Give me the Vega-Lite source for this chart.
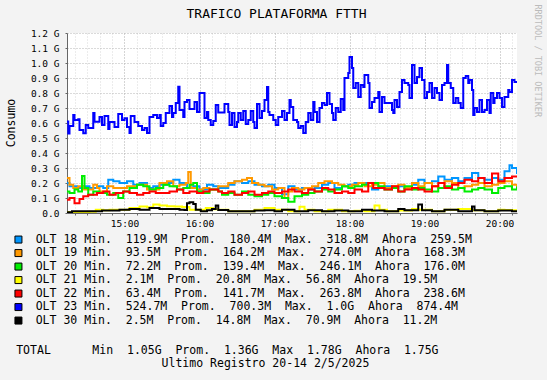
{
"$schema": "https://vega.github.io/schema/vega-lite/v6.json",
"width": 450, "height": 180,
"autosize": {"type": "none"},
"padding": {"left": 67, "top": 33, "right": 30, "bottom": 167},
"background": "#f3f3f3",
"config": {"view": {"fill": "white", "stroke": null}},
"datasets": {
"stats": [
{"s":"OLT 18","lbl":"OLT\u00a018\u00a0Min.\u00a0\u00a0119.9M\u00a0\u00a0Prom.\u00a0\u00a0180.4M\u00a0\u00a0Max.\u00a0\u00a0318.8M\u00a0\u00a0Ahora\u00a0\u00a0259.5M"},
{"s":"OLT 19","lbl":"OLT\u00a019\u00a0Min.\u00a0\u00a093.5M\u00a0\u00a0Prom.\u00a0\u00a0164.2M\u00a0\u00a0Max.\u00a0\u00a0274.0M\u00a0\u00a0Ahora\u00a0\u00a0168.3M"},
{"s":"OLT 20","lbl":"OLT\u00a020\u00a0Min.\u00a0\u00a072.2M\u00a0\u00a0Prom.\u00a0\u00a0139.4M\u00a0\u00a0Max.\u00a0\u00a0246.1M\u00a0\u00a0Ahora\u00a0\u00a0176.0M"},
{"s":"OLT 21","lbl":"OLT\u00a021\u00a0Min.\u00a0\u00a02.1M\u00a0\u00a0Prom.\u00a0\u00a020.8M\u00a0\u00a0Max.\u00a0\u00a056.8M\u00a0\u00a0Ahora\u00a0\u00a019.5M"},
{"s":"OLT 22","lbl":"OLT\u00a022\u00a0Min.\u00a0\u00a063.4M\u00a0\u00a0Prom.\u00a0\u00a0141.7M\u00a0\u00a0Max.\u00a0\u00a0263.8M\u00a0\u00a0Ahora\u00a0\u00a0238.6M"},
{"s":"OLT 23","lbl":"OLT\u00a023\u00a0Min.\u00a0\u00a0524.7M\u00a0\u00a0Prom.\u00a0\u00a0700.3M\u00a0\u00a0Max.\u00a0\u00a01.0G\u00a0\u00a0Ahora\u00a0\u00a0874.4M"},
{"s":"OLT 30","lbl":"OLT\u00a030\u00a0Min.\u00a0\u00a02.5M\u00a0\u00a0Prom.\u00a0\u00a014.8M\u00a0\u00a0Max.\u00a0\u00a070.9M\u00a0\u00a0Ahora\u00a0\u00a011.2M"}
],
"main": [
{"s":"OLT 18","m":854,"v":200},{"s":"OLT 18","m":856,"v":178},{"s":"OLT 18","m":862,"v":167},{"s":"OLT 18","m":867,"v":178},{"s":"OLT 18","m":872,"v":167},{"s":"OLT 18","m":878,"v":178},{"s":"OLT 18","m":883,"v":167},{"s":"OLT 18","m":887,"v":222},{"s":"OLT 18","m":891,"v":211},{"s":"OLT 18","m":896,"v":200},{"s":"OLT 18","m":902,"v":211},{"s":"OLT 18","m":907,"v":189},{"s":"OLT 18","m":912,"v":200},{"s":"OLT 18","m":918,"v":167},{"s":"OLT 18","m":923,"v":178},{"s":"OLT 18","m":928,"v":189},{"s":"OLT 18","m":934,"v":200},{"s":"OLT 18","m":939,"v":222},{"s":"OLT 18","m":944,"v":200},{"s":"OLT 18","m":950,"v":167},{"s":"OLT 18","m":955,"v":178},{"s":"OLT 18","m":960,"v":156},{"s":"OLT 18","m":966,"v":189},{"s":"OLT 18","m":971,"v":178},{"s":"OLT 18","m":975,"v":167},{"s":"OLT 18","m":983,"v":189},{"s":"OLT 18","m":988,"v":211},{"s":"OLT 18","m":994,"v":200},{"s":"OLT 18","m":999,"v":211},{"s":"OLT 18","m":1004,"v":189},{"s":"OLT 18","m":1010,"v":178},{"s":"OLT 18","m":1015,"v":189},{"s":"OLT 18","m":1020,"v":167},{"s":"OLT 18","m":1026,"v":125},{"s":"OLT 18","m":1031,"v":178},{"s":"OLT 18","m":1036,"v":156},{"s":"OLT 18","m":1042,"v":167},{"s":"OLT 18","m":1047,"v":156},{"s":"OLT 18","m":1052,"v":167},{"s":"OLT 18","m":1058,"v":189},{"s":"OLT 18","m":1063,"v":200},{"s":"OLT 18","m":1068,"v":167},{"s":"OLT 18","m":1074,"v":178},{"s":"OLT 18","m":1079,"v":189},{"s":"OLT 18","m":1084,"v":200},{"s":"OLT 18","m":1090,"v":200},{"s":"OLT 18","m":1098,"v":156},{"s":"OLT 18","m":1103,"v":167},{"s":"OLT 18","m":1108,"v":178},{"s":"OLT 18","m":1114,"v":167},{"s":"OLT 18","m":1119,"v":178},{"s":"OLT 18","m":1124,"v":167},{"s":"OLT 18","m":1130,"v":189},{"s":"OLT 18","m":1135,"v":222},{"s":"OLT 18","m":1140,"v":200},{"s":"OLT 18","m":1146,"v":211},{"s":"OLT 18","m":1151,"v":244},{"s":"OLT 18","m":1156,"v":222},{"s":"OLT 18","m":1162,"v":233},{"s":"OLT 18","m":1167,"v":211},{"s":"OLT 18","m":1172,"v":233},{"s":"OLT 18","m":1178,"v":267},{"s":"OLT 18","m":1183,"v":233},{"s":"OLT 18","m":1188,"v":222},{"s":"OLT 18","m":1194,"v":233},{"s":"OLT 18","m":1199,"v":222},{"s":"OLT 18","m":1204,"v":278},{"s":"OLT 18","m":1208,"v":319},{"s":"OLT 18","m":1210,"v":300},{"s":"OLT 18","m":1214,"v":260},
{"s":"OLT 19","m":854,"v":233},{"s":"OLT 19","m":856,"v":189},{"s":"OLT 19","m":859,"v":167},{"s":"OLT 19","m":863,"v":178},{"s":"OLT 19","m":867,"v":156},{"s":"OLT 19","m":875,"v":189},{"s":"OLT 19","m":878,"v":167},{"s":"OLT 19","m":880,"v":144},{"s":"OLT 19","m":886,"v":178},{"s":"OLT 19","m":891,"v":167},{"s":"OLT 19","m":902,"v":178},{"s":"OLT 19","m":910,"v":189},{"s":"OLT 19","m":918,"v":156},{"s":"OLT 19","m":928,"v":200},{"s":"OLT 19","m":934,"v":211},{"s":"OLT 19","m":939,"v":178},{"s":"OLT 19","m":944,"v":189},{"s":"OLT 19","m":949,"v":200},{"s":"OLT 19","m":951,"v":274},{"s":"OLT 19","m":953,"v":167},{"s":"OLT 19","m":958,"v":156},{"s":"OLT 19","m":963,"v":167},{"s":"OLT 19","m":968,"v":156},{"s":"OLT 19","m":975,"v":178},{"s":"OLT 19","m":983,"v":200},{"s":"OLT 19","m":988,"v":211},{"s":"OLT 19","m":994,"v":222},{"s":"OLT 19","m":998,"v":233},{"s":"OLT 19","m":1002,"v":200},{"s":"OLT 19","m":1007,"v":189},{"s":"OLT 19","m":1012,"v":178},{"s":"OLT 19","m":1018,"v":156},{"s":"OLT 19","m":1023,"v":167},{"s":"OLT 19","m":1028,"v":100},{"s":"OLT 19","m":1031,"v":144},{"s":"OLT 19","m":1034,"v":167},{"s":"OLT 19","m":1039,"v":156},{"s":"OLT 19","m":1044,"v":167},{"s":"OLT 19","m":1050,"v":178},{"s":"OLT 19","m":1055,"v":200},{"s":"OLT 19","m":1060,"v":211},{"s":"OLT 19","m":1066,"v":200},{"s":"OLT 19","m":1071,"v":189},{"s":"OLT 19","m":1076,"v":178},{"s":"OLT 19","m":1082,"v":189},{"s":"OLT 19","m":1087,"v":200},{"s":"OLT 19","m":1092,"v":178},{"s":"OLT 19","m":1098,"v":189},{"s":"OLT 19","m":1103,"v":200},{"s":"OLT 19","m":1108,"v":167},{"s":"OLT 19","m":1114,"v":178},{"s":"OLT 19","m":1119,"v":189},{"s":"OLT 19","m":1124,"v":167},{"s":"OLT 19","m":1130,"v":200},{"s":"OLT 19","m":1135,"v":178},{"s":"OLT 19","m":1140,"v":200},{"s":"OLT 19","m":1146,"v":178},{"s":"OLT 19","m":1151,"v":167},{"s":"OLT 19","m":1156,"v":211},{"s":"OLT 19","m":1162,"v":200},{"s":"OLT 19","m":1167,"v":167},{"s":"OLT 19","m":1172,"v":178},{"s":"OLT 19","m":1178,"v":189},{"s":"OLT 19","m":1183,"v":200},{"s":"OLT 19","m":1188,"v":178},{"s":"OLT 19","m":1194,"v":189},{"s":"OLT 19","m":1199,"v":200},{"s":"OLT 19","m":1204,"v":211},{"s":"OLT 19","m":1210,"v":189},{"s":"OLT 19","m":1214,"v":168},
{"s":"OLT 20","m":854,"v":144},{"s":"OLT 20","m":856,"v":133},{"s":"OLT 20","m":860,"v":156},{"s":"OLT 20","m":863,"v":144},{"s":"OLT 20","m":866,"v":246},{"s":"OLT 20","m":868,"v":167},{"s":"OLT 20","m":871,"v":122},{"s":"OLT 20","m":875,"v":144},{"s":"OLT 20","m":880,"v":133},{"s":"OLT 20","m":886,"v":122},{"s":"OLT 20","m":891,"v":133},{"s":"OLT 20","m":895,"v":100},{"s":"OLT 20","m":899,"v":144},{"s":"OLT 20","m":904,"v":167},{"s":"OLT 20","m":910,"v":189},{"s":"OLT 20","m":915,"v":178},{"s":"OLT 20","m":920,"v":156},{"s":"OLT 20","m":925,"v":167},{"s":"OLT 20","m":931,"v":189},{"s":"OLT 20","m":936,"v":178},{"s":"OLT 20","m":942,"v":156},{"s":"OLT 20","m":947,"v":167},{"s":"OLT 20","m":952,"v":189},{"s":"OLT 20","m":955,"v":200},{"s":"OLT 20","m":958,"v":144},{"s":"OLT 20","m":963,"v":133},{"s":"OLT 20","m":968,"v":156},{"s":"OLT 20","m":975,"v":144},{"s":"OLT 20","m":978,"v":122},{"s":"OLT 20","m":983,"v":133},{"s":"OLT 20","m":988,"v":122},{"s":"OLT 20","m":994,"v":144},{"s":"OLT 20","m":999,"v":122},{"s":"OLT 20","m":1004,"v":111},{"s":"OLT 20","m":1010,"v":122},{"s":"OLT 20","m":1015,"v":133},{"s":"OLT 20","m":1020,"v":111},{"s":"OLT 20","m":1026,"v":100},{"s":"OLT 20","m":1031,"v":75},{"s":"OLT 20","m":1036,"v":111},{"s":"OLT 20","m":1042,"v":122},{"s":"OLT 20","m":1047,"v":133},{"s":"OLT 20","m":1052,"v":144},{"s":"OLT 20","m":1058,"v":156},{"s":"OLT 20","m":1063,"v":144},{"s":"OLT 20","m":1068,"v":156},{"s":"OLT 20","m":1074,"v":178},{"s":"OLT 20","m":1079,"v":167},{"s":"OLT 20","m":1084,"v":178},{"s":"OLT 20","m":1090,"v":189},{"s":"OLT 20","m":1095,"v":200},{"s":"OLT 20","m":1103,"v":178},{"s":"OLT 20","m":1108,"v":156},{"s":"OLT 20","m":1114,"v":167},{"s":"OLT 20","m":1119,"v":144},{"s":"OLT 20","m":1124,"v":178},{"s":"OLT 20","m":1130,"v":156},{"s":"OLT 20","m":1135,"v":167},{"s":"OLT 20","m":1140,"v":156},{"s":"OLT 20","m":1146,"v":144},{"s":"OLT 20","m":1151,"v":167},{"s":"OLT 20","m":1156,"v":178},{"s":"OLT 20","m":1162,"v":156},{"s":"OLT 20","m":1167,"v":167},{"s":"OLT 20","m":1172,"v":144},{"s":"OLT 20","m":1178,"v":156},{"s":"OLT 20","m":1183,"v":167},{"s":"OLT 20","m":1188,"v":156},{"s":"OLT 20","m":1194,"v":133},{"s":"OLT 20","m":1199,"v":167},{"s":"OLT 20","m":1204,"v":178},{"s":"OLT 20","m":1210,"v":156},{"s":"OLT 20","m":1214,"v":176},
{"s":"OLT 21","m":854,"v":7},{"s":"OLT 21","m":860,"v":2},{"s":"OLT 21","m":866,"v":7},{"s":"OLT 21","m":872,"v":8},{"s":"OLT 21","m":877,"v":22},{"s":"OLT 21","m":883,"v":18},{"s":"OLT 21","m":888,"v":22},{"s":"OLT 21","m":896,"v":22},{"s":"OLT 21","m":904,"v":33},{"s":"OLT 21","m":912,"v":44},{"s":"OLT 21","m":918,"v":38},{"s":"OLT 21","m":923,"v":56},{"s":"OLT 21","m":928,"v":50},{"s":"OLT 21","m":934,"v":45},{"s":"OLT 21","m":940,"v":44},{"s":"OLT 21","m":946,"v":40},{"s":"OLT 21","m":952,"v":22},{"s":"OLT 21","m":958,"v":22},{"s":"OLT 21","m":965,"v":33},{"s":"OLT 21","m":971,"v":25},{"s":"OLT 21","m":975,"v":22},{"s":"OLT 21","m":983,"v":11},{"s":"OLT 21","m":990,"v":11},{"s":"OLT 21","m":999,"v":11},{"s":"OLT 21","m":1004,"v":22},{"s":"OLT 21","m":1012,"v":33},{"s":"OLT 21","m":1020,"v":22},{"s":"OLT 21","m":1031,"v":11},{"s":"OLT 21","m":1040,"v":42},{"s":"OLT 21","m":1044,"v":22},{"s":"OLT 21","m":1052,"v":11},{"s":"OLT 21","m":1063,"v":22},{"s":"OLT 21","m":1074,"v":11},{"s":"OLT 21","m":1084,"v":15},{"s":"OLT 21","m":1092,"v":11},{"s":"OLT 21","m":1100,"v":50},{"s":"OLT 21","m":1104,"v":22},{"s":"OLT 21","m":1110,"v":11},{"s":"OLT 21","m":1119,"v":16},{"s":"OLT 21","m":1130,"v":27},{"s":"OLT 21","m":1135,"v":22},{"s":"OLT 21","m":1146,"v":11},{"s":"OLT 21","m":1156,"v":22},{"s":"OLT 21","m":1167,"v":27},{"s":"OLT 21","m":1178,"v":18},{"s":"OLT 21","m":1188,"v":11},{"s":"OLT 21","m":1199,"v":22},{"s":"OLT 21","m":1204,"v":20},{"s":"OLT 21","m":1210,"v":18},{"s":"OLT 21","m":1214,"v":20},
{"s":"OLT 22","m":854,"v":89},{"s":"OLT 22","m":856,"v":100},{"s":"OLT 22","m":860,"v":65},{"s":"OLT 22","m":864,"v":93},{"s":"OLT 22","m":867,"v":111},{"s":"OLT 22","m":871,"v":122},{"s":"OLT 22","m":878,"v":133},{"s":"OLT 22","m":883,"v":144},{"s":"OLT 22","m":888,"v":122},{"s":"OLT 22","m":893,"v":133},{"s":"OLT 22","m":899,"v":144},{"s":"OLT 22","m":904,"v":133},{"s":"OLT 22","m":910,"v":122},{"s":"OLT 22","m":915,"v":133},{"s":"OLT 22","m":920,"v":144},{"s":"OLT 22","m":925,"v":133},{"s":"OLT 22","m":936,"v":144},{"s":"OLT 22","m":942,"v":156},{"s":"OLT 22","m":947,"v":133},{"s":"OLT 22","m":952,"v":144},{"s":"OLT 22","m":958,"v":133},{"s":"OLT 22","m":963,"v":144},{"s":"OLT 22","m":968,"v":156},{"s":"OLT 22","m":975,"v":144},{"s":"OLT 22","m":978,"v":133},{"s":"OLT 22","m":983,"v":144},{"s":"OLT 22","m":988,"v":122},{"s":"OLT 22","m":994,"v":133},{"s":"OLT 22","m":999,"v":144},{"s":"OLT 22","m":1004,"v":122},{"s":"OLT 22","m":1010,"v":133},{"s":"OLT 22","m":1015,"v":144},{"s":"OLT 22","m":1020,"v":133},{"s":"OLT 22","m":1026,"v":144},{"s":"OLT 22","m":1031,"v":156},{"s":"OLT 22","m":1036,"v":144},{"s":"OLT 22","m":1042,"v":133},{"s":"OLT 22","m":1047,"v":156},{"s":"OLT 22","m":1052,"v":144},{"s":"OLT 22","m":1058,"v":167},{"s":"OLT 22","m":1063,"v":156},{"s":"OLT 22","m":1068,"v":133},{"s":"OLT 22","m":1074,"v":144},{"s":"OLT 22","m":1079,"v":133},{"s":"OLT 22","m":1084,"v":156},{"s":"OLT 22","m":1090,"v":144},{"s":"OLT 22","m":1095,"v":200},{"s":"OLT 22","m":1099,"v":167},{"s":"OLT 22","m":1108,"v":156},{"s":"OLT 22","m":1114,"v":178},{"s":"OLT 22","m":1119,"v":144},{"s":"OLT 22","m":1124,"v":156},{"s":"OLT 22","m":1130,"v":167},{"s":"OLT 22","m":1135,"v":156},{"s":"OLT 22","m":1140,"v":144},{"s":"OLT 22","m":1146,"v":178},{"s":"OLT 22","m":1151,"v":200},{"s":"OLT 22","m":1156,"v":167},{"s":"OLT 22","m":1162,"v":189},{"s":"OLT 22","m":1167,"v":200},{"s":"OLT 22","m":1172,"v":222},{"s":"OLT 22","m":1178,"v":211},{"s":"OLT 22","m":1183,"v":233},{"s":"OLT 22","m":1188,"v":200},{"s":"OLT 22","m":1194,"v":264},{"s":"OLT 22","m":1199,"v":211},{"s":"OLT 22","m":1204,"v":233},{"s":"OLT 22","m":1210,"v":244},{"s":"OLT 22","m":1214,"v":239},
{"s":"OLT 23","m":854,"v":610},{"s":"OLT 23","m":855,"v":530},{"s":"OLT 23","m":856,"v":580},{"s":"OLT 23","m":859,"v":653},{"s":"OLT 23","m":860,"v":620},{"s":"OLT 23","m":863,"v":625},{"s":"OLT 23","m":864,"v":553},{"s":"OLT 23","m":867,"v":531},{"s":"OLT 23","m":869,"v":587},{"s":"OLT 23","m":871,"v":567},{"s":"OLT 23","m":875,"v":667},{"s":"OLT 23","m":876,"v":609},{"s":"OLT 23","m":880,"v":640},{"s":"OLT 23","m":882,"v":587},{"s":"OLT 23","m":884,"v":647},{"s":"OLT 23","m":887,"v":560},{"s":"OLT 23","m":888,"v":607},{"s":"OLT 23","m":892,"v":573},{"s":"OLT 23","m":895,"v":660},{"s":"OLT 23","m":898,"v":620},{"s":"OLT 23","m":900,"v":631},{"s":"OLT 23","m":902,"v":573},{"s":"OLT 23","m":904,"v":533},{"s":"OLT 23","m":905,"v":647},{"s":"OLT 23","m":908,"v":607},{"s":"OLT 23","m":911,"v":580},{"s":"OLT 23","m":914,"v":553},{"s":"OLT 23","m":916,"v":567},{"s":"OLT 23","m":918,"v":533},{"s":"OLT 23","m":920,"v":640},{"s":"OLT 23","m":923,"v":653},{"s":"OLT 23","m":926,"v":633},{"s":"OLT 23","m":928,"v":653},{"s":"OLT 23","m":929,"v":580},{"s":"OLT 23","m":931,"v":600},{"s":"OLT 23","m":933,"v":667},{"s":"OLT 23","m":936,"v":713},{"s":"OLT 23","m":938,"v":640},{"s":"OLT 23","m":939,"v":667},{"s":"OLT 23","m":941,"v":733},{"s":"OLT 23","m":943,"v":842},{"s":"OLT 23","m":944,"v":687},{"s":"OLT 23","m":947,"v":640},{"s":"OLT 23","m":948,"v":740},{"s":"OLT 23","m":950,"v":753},{"s":"OLT 23","m":952,"v":693},{"s":"OLT 23","m":956,"v":740},{"s":"OLT 23","m":958,"v":673},{"s":"OLT 23","m":960,"v":800},{"s":"OLT 23","m":964,"v":633},{"s":"OLT 23","m":966,"v":673},{"s":"OLT 23","m":967,"v":620},{"s":"OLT 23","m":969,"v":587},{"s":"OLT 23","m":971,"v":613},{"s":"OLT 23","m":973,"v":720},{"s":"OLT 23","m":975,"v":670},{"s":"OLT 23","m":980,"v":727},{"s":"OLT 23","m":983,"v":673},{"s":"OLT 23","m":984,"v":587},{"s":"OLT 23","m":986,"v":667},{"s":"OLT 23","m":988,"v":573},{"s":"OLT 23","m":990,"v":607},{"s":"OLT 23","m":991,"v":667},{"s":"OLT 23","m":993,"v":620},{"s":"OLT 23","m":995,"v":680},{"s":"OLT 23","m":997,"v":593},{"s":"OLT 23","m":999,"v":620},{"s":"OLT 23","m":1001,"v":680},{"s":"OLT 23","m":1003,"v":607},{"s":"OLT 23","m":1004,"v":567},{"s":"OLT 23","m":1006,"v":727},{"s":"OLT 23","m":1008,"v":633},{"s":"OLT 23","m":1010,"v":680},{"s":"OLT 23","m":1012,"v":753},{"s":"OLT 23","m":1014,"v":840},{"s":"OLT 23","m":1015,"v":673},{"s":"OLT 23","m":1016,"v":653},{"s":"OLT 23","m":1019,"v":620},{"s":"OLT 23","m":1021,"v":587},{"s":"OLT 23","m":1023,"v":640},{"s":"OLT 23","m":1026,"v":680},{"s":"OLT 23","m":1028,"v":620},{"s":"OLT 23","m":1030,"v":667},{"s":"OLT 23","m":1032,"v":753},{"s":"OLT 23","m":1033,"v":707},{"s":"OLT 23","m":1035,"v":620},{"s":"OLT 23","m":1038,"v":607},{"s":"OLT 23","m":1039,"v":567},{"s":"OLT 23","m":1041,"v":580},{"s":"OLT 23","m":1043,"v":533},{"s":"OLT 23","m":1045,"v":607},{"s":"OLT 23","m":1047,"v":667},{"s":"OLT 23","m":1049,"v":620},{"s":"OLT 23","m":1051,"v":740},{"s":"OLT 23","m":1052,"v":673},{"s":"OLT 23","m":1054,"v":607},{"s":"OLT 23","m":1056,"v":700},{"s":"OLT 23","m":1058,"v":733},{"s":"OLT 23","m":1060,"v":720},{"s":"OLT 23","m":1062,"v":800},{"s":"OLT 23","m":1064,"v":727},{"s":"OLT 23","m":1066,"v":667},{"s":"OLT 23","m":1067,"v":620},{"s":"OLT 23","m":1069,"v":700},{"s":"OLT 23","m":1071,"v":673},{"s":"OLT 23","m":1073,"v":760},{"s":"OLT 23","m":1075,"v":687},{"s":"OLT 23","m":1076,"v":900},{"s":"OLT 23","m":1079,"v":933},{"s":"OLT 23","m":1080,"v":1040},{"s":"OLT 23","m":1082,"v":967},{"s":"OLT 23","m":1083,"v":833},{"s":"OLT 23","m":1085,"v":867},{"s":"OLT 23","m":1087,"v":773},{"s":"OLT 23","m":1089,"v":853},{"s":"OLT 23","m":1091,"v":840},{"s":"OLT 23","m":1092,"v":920},{"s":"OLT 23","m":1095,"v":867},{"s":"OLT 23","m":1096,"v":700},{"s":"OLT 23","m":1098,"v":740},{"s":"OLT 23","m":1100,"v":767},{"s":"OLT 23","m":1103,"v":807},{"s":"OLT 23","m":1104,"v":673},{"s":"OLT 23","m":1106,"v":773},{"s":"OLT 23","m":1108,"v":733},{"s":"OLT 23","m":1111,"v":733},{"s":"OLT 23","m":1114,"v":687},{"s":"OLT 23","m":1115,"v":667},{"s":"OLT 23","m":1116,"v":753},{"s":"OLT 23","m":1118,"v":707},{"s":"OLT 23","m":1120,"v":807},{"s":"OLT 23","m":1122,"v":887},{"s":"OLT 23","m":1124,"v":867},{"s":"OLT 23","m":1127,"v":853},{"s":"OLT 23","m":1128,"v":767},{"s":"OLT 23","m":1130,"v":987},{"s":"OLT 23","m":1132,"v":867},{"s":"OLT 23","m":1134,"v":907},{"s":"OLT 23","m":1136,"v":967},{"s":"OLT 23","m":1138,"v":887},{"s":"OLT 23","m":1140,"v":767},{"s":"OLT 23","m":1142,"v":807},{"s":"OLT 23","m":1144,"v":867},{"s":"OLT 23","m":1146,"v":767},{"s":"OLT 23","m":1148,"v":833},{"s":"OLT 23","m":1150,"v":800},{"s":"OLT 23","m":1152,"v":753},{"s":"OLT 23","m":1154,"v":853},{"s":"OLT 23","m":1156,"v":867},{"s":"OLT 23","m":1158,"v":987},{"s":"OLT 23","m":1159,"v":867},{"s":"OLT 23","m":1161,"v":833},{"s":"OLT 23","m":1163,"v":733},{"s":"OLT 23","m":1165,"v":767},{"s":"OLT 23","m":1167,"v":733},{"s":"OLT 23","m":1169,"v":700},{"s":"OLT 23","m":1171,"v":900},{"s":"OLT 23","m":1173,"v":913},{"s":"OLT 23","m":1175,"v":867},{"s":"OLT 23","m":1176,"v":887},{"s":"OLT 23","m":1178,"v":820},{"s":"OLT 23","m":1179,"v":653},{"s":"OLT 23","m":1180,"v":700},{"s":"OLT 23","m":1182,"v":673},{"s":"OLT 23","m":1184,"v":753},{"s":"OLT 23","m":1186,"v":673},{"s":"OLT 23","m":1188,"v":687},{"s":"OLT 23","m":1190,"v":753},{"s":"OLT 23","m":1192,"v":667},{"s":"OLT 23","m":1193,"v":800},{"s":"OLT 23","m":1195,"v":733},{"s":"OLT 23","m":1196,"v":767},{"s":"OLT 23","m":1198,"v":800},{"s":"OLT 23","m":1200,"v":767},{"s":"OLT 23","m":1202,"v":707},{"s":"OLT 23","m":1204,"v":773},{"s":"OLT 23","m":1207,"v":820},{"s":"OLT 23","m":1208,"v":807},{"s":"OLT 23","m":1210,"v":887},{"s":"OLT 23","m":1212,"v":873},{"s":"OLT 23","m":1214,"v":874},
{"s":"OLT 30","m":854,"v":5},{"s":"OLT 30","m":858,"v":11},{"s":"OLT 30","m":864,"v":11},{"s":"OLT 30","m":870,"v":11},{"s":"OLT 30","m":876,"v":11},{"s":"OLT 30","m":882,"v":16},{"s":"OLT 30","m":890,"v":16},{"s":"OLT 30","m":896,"v":22},{"s":"OLT 30","m":904,"v":27},{"s":"OLT 30","m":912,"v":22},{"s":"OLT 30","m":920,"v":33},{"s":"OLT 30","m":928,"v":27},{"s":"OLT 30","m":936,"v":27},{"s":"OLT 30","m":944,"v":22},{"s":"OLT 30","m":948,"v":20},{"s":"OLT 30","m":950,"v":65},{"s":"OLT 30","m":952,"v":71},{"s":"OLT 30","m":955,"v":60},{"s":"OLT 30","m":957,"v":22},{"s":"OLT 30","m":961,"v":11},{"s":"OLT 30","m":966,"v":18},{"s":"OLT 30","m":970,"v":27},{"s":"OLT 30","m":973,"v":50},{"s":"OLT 30","m":975,"v":20},{"s":"OLT 30","m":983,"v":11},{"s":"OLT 30","m":994,"v":11},{"s":"OLT 30","m":1004,"v":16},{"s":"OLT 30","m":1012,"v":18},{"s":"OLT 30","m":1020,"v":11},{"s":"OLT 30","m":1026,"v":22},{"s":"OLT 30","m":1036,"v":11},{"s":"OLT 30","m":1047,"v":18},{"s":"OLT 30","m":1058,"v":11},{"s":"OLT 30","m":1068,"v":16},{"s":"OLT 30","m":1079,"v":11},{"s":"OLT 30","m":1090,"v":22},{"s":"OLT 30","m":1098,"v":16},{"s":"OLT 30","m":1108,"v":11},{"s":"OLT 30","m":1119,"v":27},{"s":"OLT 30","m":1124,"v":18},{"s":"OLT 30","m":1135,"v":56},{"s":"OLT 30","m":1138,"v":18},{"s":"OLT 30","m":1146,"v":11},{"s":"OLT 30","m":1156,"v":22},{"s":"OLT 30","m":1167,"v":11},{"s":"OLT 30","m":1178,"v":44},{"s":"OLT 30","m":1180,"v":18},{"s":"OLT 30","m":1188,"v":11},{"s":"OLT 30","m":1199,"v":16},{"s":"OLT 30","m":1210,"v":11},{"s":"OLT 30","m":1214,"v":11}
]
},
"layer": [
{
"data": {"name": "main"},
"transform": [{"lookup": "s", "from": {"data": {"name": "stats"}, "key": "s", "fields": ["lbl"]}}],
"mark": {"type": "line", "strokeWidth": 2, "interpolate": "step-after", "clip": true},
"encoding": {
"x": {"field": "m", "type": "quantitative", "scale": {"domain": [854, 1214], "nice": false, "zero": false},
"axis": {"values": [860,870,880,890,900,910,920,930,940,950,960,970,980,990,1000,1010,1020,1030,1040,1050,1060,1070,1080,1090,1100,1110,1120,1130,1140,1150,1160,1170,1180,1190,1200,1210],
"labelExpr": "datum.value % 60 == 0 ? floor(datum.value / 60) + ':00' : ''",
"labelFont": "DejaVu Sans Mono", "labelFontSize": 9.5, "labelColor": "#000", "labelPadding": 3, "labelOverlap": false, "labelFlush": false,
"tickSize": 2, "tickColor": "#666", "domainColor": "#666",
"grid": true, "gridDash": [1, 2],
"gridColor": {"condition": {"test": "datum.value % 60 == 0", "value": "#aaaaaa"}, "value": "#d8d8d8"},
"title": ["TOTAL\u00a0\u00a0\u00a0\u00a0\u00a0\u00a0Min\u00a0\u00a01.05G\u00a0\u00a0Prom.\u00a0\u00a01.36G\u00a0\u00a0Max\u00a0\u00a01.78G\u00a0\u00a0Ahora\u00a0\u00a01.75G", "\u200b\u00a0\u00a0\u00a0\u00a0\u00a0\u00a0\u00a0\u00a0\u00a0\u00a0\u00a0\u00a0\u00a0\u00a0\u00a0\u00a0\u00a0\u00a0\u00a0\u00a0\u00a0Ultimo\u00a0Registro\u00a020-14\u00a02/5/2025"],
"titleFont": "DejaVu Sans Mono", "titleFontSize": 11.5, "titleFontWeight": "normal", "titleColor": "#000",
"titleAnchor": "start", "titleAlign": "left", "titleBaseline": "top", "titleX": -51.3, "titleY": 131.5, "titleLineHeight": 13.3}},
"y": {"field": "v", "type": "quantitative", "scale": {"domain": [0, 1200], "nice": false},
"axis": {"values": [0,100,200,300,400,500,600,700,800,900,1000,1100,1200],
"labelExpr": "datum.value == 0 ? '0.0' : format(datum.value / 1000, '.1f') + ' G'",
"labelFont": "DejaVu Sans Mono", "labelFontSize": 9.5, "labelColor": "#000", "labelPadding": 6, "labelOverlap": false, "labelFlush": false,
"tickSize": 2, "tickColor": "#666", "domainColor": "#666",
"grid": true, "gridDash": [1, 2], "gridColor": "#b4b4b4",
"title": "Consumo", "titleFont": "DejaVu Sans Mono", "titleFontSize": 11.5, "titleFontWeight": "normal", "titleColor": "#000",
"titleX": -56, "titleY": 89.5, "titleAlign": "center", "titleBaseline": "middle", "titleAngle": -90}},
"stroke": {"field": "lbl", "type": "nominal",
"scale": {"range": ["#0096ff", "#ff9900", "#00ee00", "#ffff00", "#ff0000", "#0000ff", "#000000"]},
"legend": null}
}
},
{
"data": {"name": "stats"},
"mark": {"type": "point", "shape": "square", "filled": true, "opacity": 0},
"encoding": {
"x": {"datum": 854, "type": "quantitative", "scale": {"domain": [854, 1214], "nice": false, "zero": false}, "axis": null},
"y": {"datum": 0, "type": "quantitative", "scale": {"domain": [0, 1200], "nice": false}, "axis": null},
"color": {"field": "lbl", "type": "nominal",
"scale": {"range": ["#0096ff", "#ff9900", "#00ee00", "#ffff00", "#ff0000", "#0000ff", "#000000"]},
"legend": {"orient": "none", "legendX": -54.3, "legendY": 200.8, "direction": "vertical", "title": null,
"symbolType": "square", "symbolSize": 49, "symbolStrokeWidth": 1, "symbolStrokeColor": "#000", "symbolOpacity": 1,
"labelFont": "DejaVu Sans Mono", "labelFontSize": 11.5, "labelColor": "#000", "labelLimit": 1000,
"labelOffset": 11.5, "rowPadding": 0.5, "padding": 0}}
}
},
{
"mark": {"type": "point", "shape": "triangle-up", "filled": true, "size": 30, "color": "#8b1a1a", "opacity": 1},
"encoding": {
"x": {"datum": 854, "type": "quantitative", "scale": {"domain": [854, 1214], "nice": false, "zero": false}, "axis": null},
"y": {"datum": 1220, "type": "quantitative", "scale": {"domain": [0, 1200], "nice": false},
"axis": {"orient": "right", "labels": false, "ticks": false, "domain": false, "grid": false,
"title": "RRDTOOL / TOBI OETIKER", "titleFont": "DejaVu Sans Mono", "titleFontSize": 8.5, "titleFontWeight": "normal", "titleColor": "#bbbbbb",
"titleAngle": 90, "titleX": 20.5, "titleY": -29, "titleAlign": "left", "titleBaseline": "middle"}}
}
},
{
"mark": {"type": "point", "shape": "triangle-right", "filled": true, "size": 30, "color": "#8b1a1a", "opacity": 1},
"encoding": {
"x": {"datum": 1216.4, "type": "quantitative", "scale": {"domain": [854, 1214], "nice": false, "zero": false},
"axis": {"orient": "top", "labels": false, "ticks": false, "domain": false, "grid": false,
"title": "TRAFICO PLATAFORMA FTTH", "titleFont": "DejaVu Sans Mono", "titleFontSize": 13, "titleFontWeight": "normal", "titleColor": "#000",
"titleX": 209, "titleY": -19.5, "titleAlign": "center", "titleBaseline": "middle"}},
"y": {"datum": 0, "type": "quantitative", "scale": {"domain": [0, 1200], "nice": false}, "axis": null}
}
}
],
"resolve": {"axis": {"x": "independent", "y": "independent"}}
}
